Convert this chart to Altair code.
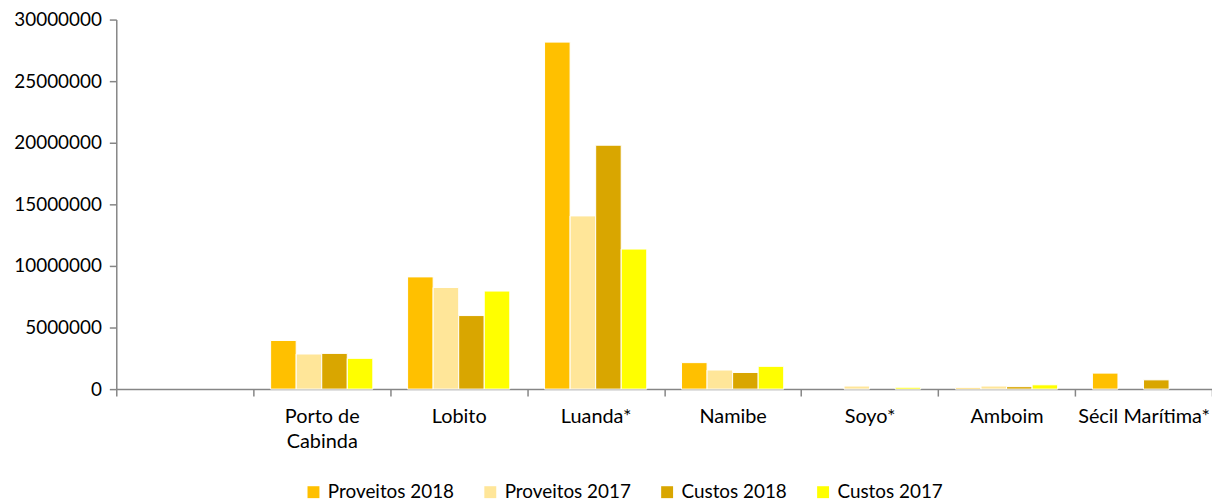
import altair as alt
import pandas as pd

categories = [" ", "Porto de Cabinda", "Lobito", "Luanda*", "Namibe", "Soyo*", "Amboim", "Sécil Marítima*"]
series = ["Proveitos 2018", "Proveitos 2017", "Custos 2018", "Custos 2017"]
colors = ["#FFC000", "#FFE699", "#D9A600", "#FFFF00"]

proveitos_2018 = [3950000, 9110000, 28170000, 2150000, 0, 100000, 1300000]
proveitos_2017 = [2850000, 8250000, 14060000, 1550000, 250000, 250000, 0]
custos_2018 = [2900000, 5970000, 19800000, 1350000, 0, 200000, 750000]
custos_2017 = [2500000, 7960000, 11370000, 1850000, 150000, 350000, 0]

rows = []
for name, vals in zip(series, [proveitos_2018, proveitos_2017, custos_2018, custos_2017]):
    for cat, v in zip(categories[1:], vals):
        rows.append({"cat": cat, "serie": name, "valor": v})
df = pd.DataFrame(rows)

FONT = "Lato"

chart = alt.Chart(df).transform_filter("datum.valor > 0").mark_bar(stroke="white", strokeWidth=1).encode(
    x=alt.X("cat:N", sort=categories,
            scale=alt.Scale(domain=categories, paddingInner=0, paddingOuter=0),
            axis=alt.Axis(title=None, labelAngle=0, tickBand="extent",
                          labelExpr="datum.label == 'Porto de Cabinda' ? ['Porto de', 'Cabinda'] : datum.label",
                          labelFont=FONT, labelFontSize=20, labelColor="#000000",
                          labelPadding=11, labelLineHeight=25,
                          domainColor="#868686", tickColor="#868686", tickSize=7,
                          domainWidth=1.5, tickWidth=1.5, labelBaseline="top")),
    xOffset=alt.XOffset("serie:N", sort=series,
                        scale=alt.Scale(domain=series, paddingInner=0, paddingOuter=0.68)),
    y=alt.Y("valor:Q",
            scale=alt.Scale(domain=[0, 30000000], nice=False),
            axis=alt.Axis(title=None, values=[0, 5000000, 10000000, 15000000, 20000000, 25000000, 30000000],
                          format="d", grid=False, labelFont=FONT, labelFontSize=19, labelColor="#000000",
                          labelPadding=8, domainColor="#868686", tickColor="#868686", tickSize=7,
                          domainWidth=1.5, tickWidth=1.5)),
    color=alt.Color("serie:N", sort=series,
                    scale=alt.Scale(domain=series, range=colors),
                    legend=alt.Legend(title=None, orient="none", direction="horizontal",
                                      legendX=189, legendY=466,
                                      symbolType="square", symbolSize=144, symbolStrokeWidth=0,
                                      labelFont=FONT, labelFontSize=19, labelColor="#000000",
                                      columnPadding=26, labelOffset=5)),
).properties(
    width=1103, height=372,
    padding={"left": 109, "top": 10, "right": 0, "bottom": 113},
    autosize=alt.AutoSizeParams(type="none"),
).configure_view(stroke=None)

chart.save("out.html", embed_options={"renderer": "svg", "actions": False})
